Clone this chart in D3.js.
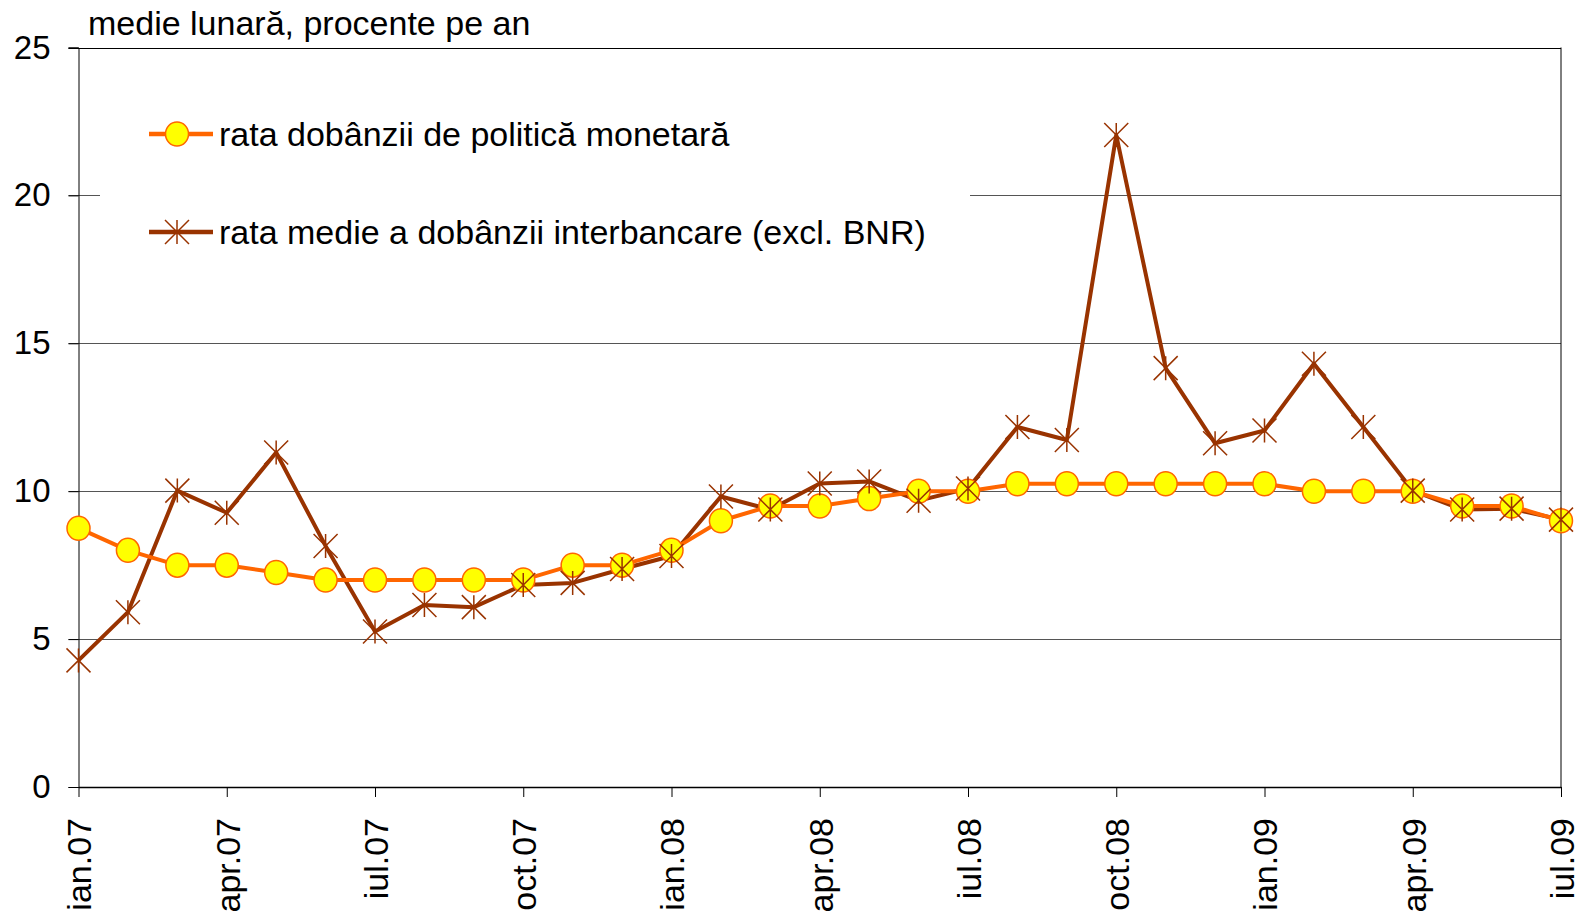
<!DOCTYPE html>
<html>
<head>
<meta charset="utf-8">
<script src="https://cdn.jsdelivr.net/npm/d3@7"></script>
<style>
    body { margin: 0; background: #fff; }
    svg { display: block; font-family: 'Liberation Sans', Arial, sans-serif; }
</style>
</head>
<body>
<script>
// months ian.07 .. iul.09
const months = [
    "ian.07", "feb.07", "mar.07", "apr.07", "mai.07", "iun.07", "iul.07", "aug.07", "sep.07", "oct.07", "nov.07", "dec.07",
    "ian.08", "feb.08", "mar.08", "apr.08", "mai.08", "iun.08", "iul.08", "aug.08", "sep.08", "oct.08", "nov.08", "dec.08",
    "ian.09", "feb.09", "mar.09", "apr.09", "mai.09", "iun.09", "iul.09"
];
const policyRate = [
    8.75, 8.0, 7.5, 7.5, 7.25, 7.0, 7.0, 7.0, 7.0, 7.0, 7.5, 7.5,
    8.0, 9.0, 9.5, 9.5, 9.75, 10.0, 10.0, 10.25, 10.25, 10.25, 10.25, 10.25,
    10.25, 10.0, 10.0, 10.0, 9.5, 9.5, 9.0
];
const interbankRate = [
    4.28, 5.91, 10.02, 9.27, 11.31, 8.15, 5.26, 6.15, 6.08, 6.83, 6.90, 7.37,
    7.81, 9.82, 9.38, 10.26, 10.33, 9.68, 10.09, 12.17, 11.73, 22.04, 14.16, 11.62,
    12.05, 14.31, 12.17, 10.02, 9.38, 9.41, 9.04
];
const tickLabels = ["ian.07", "apr.07", "iul.07", "oct.07", "ian.08", "apr.08", "iul.08", "oct.08", "ian.09", "apr.09", "iul.09"];
const yTicks = [0, 5, 10, 15, 20, 25];
const seriesNames = ["rata dobânzii de politică monetară", "rata medie a dobânzii interbancare (excl. BNR)"];
const yTitle = "medie lunară, procente pe an";

const width = 1576, height = 913;
const margin = {top: 47.5, right: 15, bottom: 126, left: 78.5};
const orange = "#ff6600", brown = "#993300";
const fontFamily = "'Liberation Sans', Arial, sans-serif";

const svg = d3.select("body").append("svg")
    .attr("width", width)
    .attr("height", height);

const x = d3.scalePoint()
    .domain(months)
    .range([margin.left, width - margin.right]);

const y = d3.scaleLinear()
    .domain([0, 25])
    .range([height - margin.bottom, margin.top]);

// gridlines + y ticks
svg.append("g")
    .selectAll("line")
    .data(yTicks.filter(d => d > 0))
    .enter()
    .append("line")
    .attr("x1", margin.left - 10)
    .attr("x2", width - margin.right)
    .attr("y1", d => Math.round(y(d)) + 0.5)
    .attr("y2", d => Math.round(y(d)) + 0.5)
    .attr("stroke", d => d === 25 ? "#000" : "#555")
    .attr("stroke-width", 1);

// y axis with labels
const yAxis = svg.append("g")
    .attr("transform", `translate(${margin.left},0)`)
    .call(d3.axisLeft(y).tickValues(yTicks).tickSize(10).tickPadding(18));
yAxis.select(".domain").attr("stroke", "#000");
yAxis.selectAll("text")
    .style("font-size", "33px")
    .style("font-family", fontFamily)
    .attr("fill", "#000");

// right border
svg.append("line")
    .attr("x1", width - margin.right)
    .attr("x2", width - margin.right)
    .attr("y1", margin.top)
    .attr("y2", y(0))
    .attr("stroke", "#000");

// x axis, quarterly ticks
const xAxis = svg.append("g")
    .attr("transform", `translate(0,${y(0)})`)
    .call(d3.axisBottom(x).tickValues(tickLabels).tickSize(10).tickSizeOuter(0));
xAxis.select(".domain").attr("stroke", "#000").attr("stroke-width", 1.5);
xAxis.selectAll("text")
    .style("font-size", "34px")
    .style("font-family", fontFamily)
    .attr("fill", "#000")
    .attr("text-anchor", "end")
    .attr("transform", "rotate(-90)")
    .attr("x", -31)
    .attr("y", 0)
    .attr("dy", "0.36em");

// title
svg.append("text")
    .attr("x", 88)
    .attr("y", 35)
    .style("font-size", "34px")
    .text(yTitle);

// legend background
svg.append("rect")
    .attr("x", 100)
    .attr("y", 85)
    .attr("width", 870)
    .attr("height", 190)
    .attr("fill", "#fff");

// star marker path
const starPath = s => `M0,${-s}V${s}M${-s},${-s}L${s},${s}M${-s},${s}L${s},${-s}`;

const line = d3.line()
    .x((d, i) => x(months[i]))
    .y(d => y(d));

// interbank series
svg.append("path")
    .datum(interbankRate)
    .attr("fill", "none")
    .attr("stroke", brown)
    .attr("stroke-width", 4)
    .attr("stroke-linejoin", "round")
    .attr("d", line);

// policy series
svg.append("path")
    .datum(policyRate)
    .attr("fill", "none")
    .attr("stroke", orange)
    .attr("stroke-width", 4)
    .attr("stroke-linejoin", "round")
    .attr("d", line);
svg.append("g")
    .selectAll("ellipse")
    .data(policyRate)
    .enter()
    .append("ellipse")
    .attr("cx", (d, i) => x(months[i]))
    .attr("cy", d => y(d))
    .attr("rx", 11.5)
    .attr("ry", 12)
    .attr("fill", "#ffff00")
    .attr("stroke", orange)
    .attr("stroke-width", 1.5);

// star markers on top
svg.append("g")
    .selectAll("path")
    .data(interbankRate)
    .enter()
    .append("path")
    .attr("transform", (d, i) => `translate(${x(months[i])},${y(d)})`)
    .attr("d", starPath(12))
    .attr("stroke", brown)
    .attr("stroke-width", 1.5)
    .attr("fill", "none");

// legend
const legendItems = [
    {name: seriesNames[0], color: orange, marker: "circle", ly: 134},
    {name: seriesNames[1], color: brown, marker: "star", ly: 232}
];
const legend = svg.append("g").attr("class", "legend");
legendItems.forEach(item => {
    const g = legend.append("g").attr("transform", `translate(0,${item.ly})`);
    g.append("line")
        .attr("x1", 149).attr("x2", 213)
        .attr("stroke", item.color)
        .attr("stroke-width", 4.5);
    if (item.marker === "circle") {
        g.append("ellipse")
            .attr("cx", 177).attr("rx", 11.5).attr("ry", 12)
            .attr("fill", "#ffff00")
            .attr("stroke", orange)
            .attr("stroke-width", 1.5);
    } else {
        g.append("path")
            .attr("transform", "translate(177,0)")
            .attr("d", starPath(12))
            .attr("stroke", brown)
            .attr("stroke-width", 1.5);
    }
    g.append("text")
        .attr("x", 219)
        .attr("dy", "0.36em")
        .style("font-size", "34px")
        .text(item.name);
});
</script>
</body>
</html>
